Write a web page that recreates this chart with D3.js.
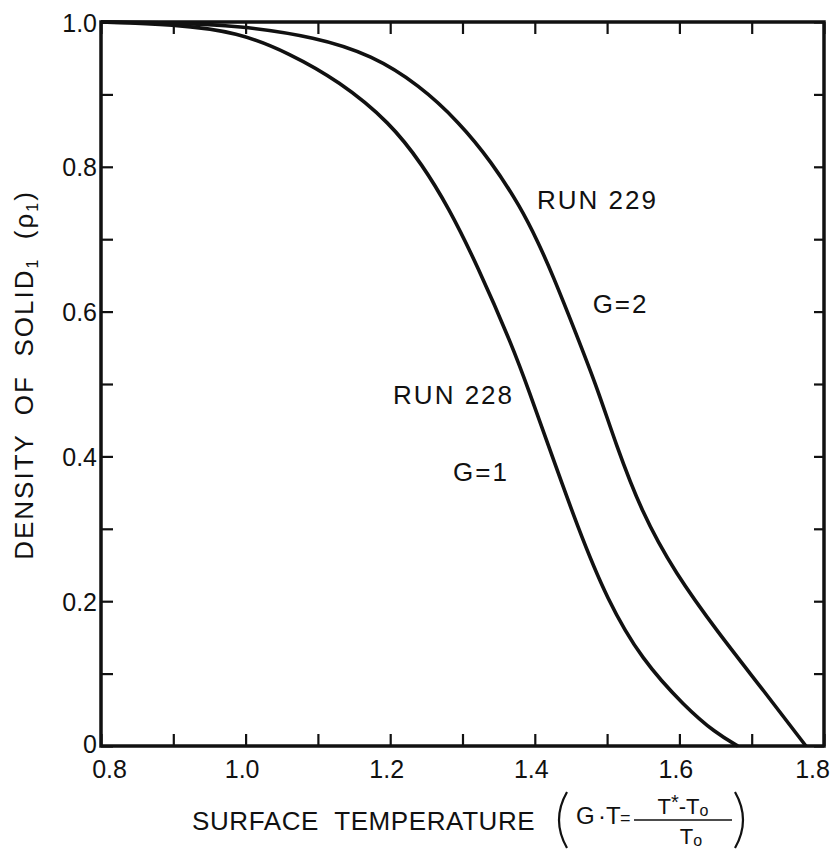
<!DOCTYPE html>
<html>
<head>
<meta charset="utf-8">
<script src="https://cdn.jsdelivr.net/npm/d3@7"></script>
<style>
  body { margin: 0; background: #fff; }
  text { font-family: "Liberation Sans", Arial, sans-serif; fill: #111; }
</style>
</head>
<body>
<div id="chart"></div>
<script>
(function() {
  // values
  var xTicks = [0.8, 0.9, 1.0, 1.1, 1.2, 1.3, 1.4, 1.5, 1.6, 1.7, 1.8]
  var xLabels = ["0.8", "", "1.0", "", "1.2", "", "1.4", "", "1.6", "", "1.8"]
  var yTicks = [0, 0.1, 0.2, 0.3, 0.4, 0.5, 0.6, 0.7, 0.8, 0.9, 1.0]
  var yLabels = ["0", "", "0.2", "", "0.4", "", "0.6", "", "0.8", "", "1.0"]

  var run228 = [
    [0.80, 1.000], [0.90, 0.997], [0.99, 0.986], [1.06, 0.957], [1.13, 0.918],
    [1.20, 0.861], [1.245, 0.802], [1.28, 0.745], [1.32, 0.665], [1.37, 0.550],
    [1.392, 0.490], [1.417, 0.420], [1.46, 0.300], [1.50, 0.202], [1.548, 0.119],
    [1.608, 0.054], [1.65, 0.018], [1.681, 0.0]]

  var run229 = [
    [0.80, 1.000], [0.90, 0.999], [0.99, 0.995], [1.098, 0.979], [1.175, 0.954],
    [1.24, 0.913], [1.295, 0.862], [1.34, 0.807], [1.38, 0.745], [1.405, 0.695],
    [1.425, 0.650], [1.457, 0.570], [1.488, 0.490], [1.511, 0.420], [1.548, 0.322],
    [1.594, 0.239], [1.654, 0.156], [1.713, 0.081], [1.775, 0.0]]

  var notes = [
    {"text": "RUN 229", "x": 1.403, "y": 0.742},
    {"text": "G=2", "x": 1.480, "y": 0.598},
    {"text": "RUN 228", "x": 1.204, "y": 0.472},
    {"text": "G=1", "x": 1.287, "y": 0.366}]

  var margin = { top: 22, left: 101, right: 11, bottom: 105 },
    width = 835 - margin.left - margin.right,
    height = 851 - margin.top - margin.bottom

  var svg = d3.select("#chart")
    .append("svg")
    .attr("width", 835)
    .attr("height", 851)
    .append("g")
    .attr("transform", "translate(" + margin.left + "," + margin.top + ")")

  var xPositionScale = d3.scaleLinear().domain([0.8, 1.8]).range([0, width])
  var yPositionScale = d3.scaleLinear().domain([0, 1]).range([height, 0])

  function styleAxis(g) {
    g.select(".domain").remove()
    g.selectAll(".tick line").attr("stroke", "#111").attr("stroke-width", 2.2)
    g.selectAll(".tick text")
      .style("font-size", "25px")
      .style("font-family", "'Liberation Sans', Arial, sans-serif")
      .attr("fill", "#111")
  }

  svg.append("g")
    .attr("transform", "translate(0," + height + ")")
    .call(d3.axisBottom(xPositionScale).tickValues(xTicks).tickSize(-12).tickPadding(14)
      .tickFormat(function(d, i) { return xLabels[i] }))
    .call(styleAxis)
    .selectAll(".tick text")
    .attr("dx", function(d, i) { return i == 0 ? 8 : (i == xTicks.length - 1 ? -12 : -4) })

  svg.append("g")
    .call(d3.axisTop(xPositionScale).tickValues(xTicks).tickSize(-12).tickFormat(""))
    .call(styleAxis)

  svg.append("g")
    .call(d3.axisLeft(yPositionScale).tickValues(yTicks).tickSize(-12).tickPadding(4)
      .tickFormat(function(d, i) { return yLabels[i] }))
    .call(styleAxis)
    .selectAll(".tick text").attr("dy", function(d, i) { return i == 0 ? "0.26em" : "0.36em" })

  svg.append("g")
    .attr("transform", "translate(" + width + ",0)")
    .call(d3.axisRight(yPositionScale).tickValues(yTicks).tickSize(-10).tickFormat(""))
    .call(styleAxis)

  svg.append("rect")
    .attr("x", 0)
    .attr("y", 0)
    .attr("width", width)
    .attr("height", height)
    .attr("fill", "none")
    .attr("stroke", "#111")
    .attr("stroke-width", 3.5)

  var line = d3.line()
    .x(function(d) { return xPositionScale(d[0]) })
    .y(function(d) { return yPositionScale(d[1]) })
    .curve(d3.curveBasis)

  svg.selectAll(".curve")
    .data([run228, run229])
    .enter().append("path")
    .attr("class", "curve")
    .attr("d", line)
    .attr("fill", "none")
    .attr("stroke", "#111")
    .attr("stroke-width", 3.6)

  svg.selectAll(".note")
    .data(notes)
    .enter().append("text")
    .attr("class", "note")
    .attr("x", function(d) { return xPositionScale(d.x) })
    .attr("y", function(d) { return yPositionScale(d.y) })
    .style("font-size", "26px")
    .style("letter-spacing", "2px")
    .text(function(d) { return d.text })

  // y axis title
  var ytitle = svg.append("text")
    .attr("transform", "translate(-68," + (375 - margin.top) + ") rotate(-90)")
    .attr("text-anchor", "middle")
    .style("font-size", "26px")
    .style("letter-spacing", "2px")
    .style("white-space", "pre")
  ytitle.append("tspan").text("DENSITY  OF  SOLID")
  ytitle.append("tspan").attr("dy", 5).style("font-size", "16px").text("1")
  ytitle.append("tspan").attr("dy", -5).text("  (ρ")
  ytitle.append("tspan").attr("dy", 5).style("font-size", "16px").text("1")
  ytitle.append("tspan").attr("dy", -5).text(")")

  // x axis title
  var xt = svg.append("g").attr("transform", "translate(" + (-margin.left) + "," + (-margin.top) + ")")
  xt.append("text")
    .attr("x", 192)
    .attr("y", 830)
    .style("font-size", "26px")
    .style("letter-spacing", "0.6px")
    .style("white-space", "pre")
    .text("SURFACE  TEMPERATURE")

  xt.append("path")
    .attr("d", "M567,792 Q551,820 567,848")
    .attr("fill", "none").attr("stroke", "#111").attr("stroke-width", 2.2)
  xt.append("path")
    .attr("d", "M735,792 Q751,820 735,848")
    .attr("fill", "none").attr("stroke", "#111").attr("stroke-width", 2.2)

  var eq = xt.append("text")
    .attr("y", 824)
    .style("font-size", "24px")
  eq.append("tspan").attr("x", 576).text("G")
  eq.append("tspan").attr("x", 598).text("·")
  eq.append("tspan").attr("x", 606).text("T")
  eq.append("tspan").attr("x", 620).style("font-size", "18px").text("=")

  xt.append("line")
    .attr("x1", 634).attr("x2", 732)
    .attr("y1", 820).attr("y2", 820)
    .attr("stroke", "#111").attr("stroke-width", 1.6)

  var num = xt.append("text")
    .attr("x", 683)
    .attr("y", 814)
    .attr("text-anchor", "middle")
    .style("font-size", "22px")
  num.append("tspan").text("T")
  num.append("tspan").attr("dy", -5).style("font-size", "20px").text("*")
  num.append("tspan").attr("dy", 5).text("-T")
  num.append("tspan").attr("dy", 2).style("font-size", "16px").text("o")

  var den = xt.append("text")
    .attr("x", 691)
    .attr("y", 844)
    .attr("text-anchor", "middle")
    .style("font-size", "22px")
  den.append("tspan").text("T")
  den.append("tspan").attr("dy", 2).style("font-size", "16px").text("o")
})();
</script>
</body>
</html>
